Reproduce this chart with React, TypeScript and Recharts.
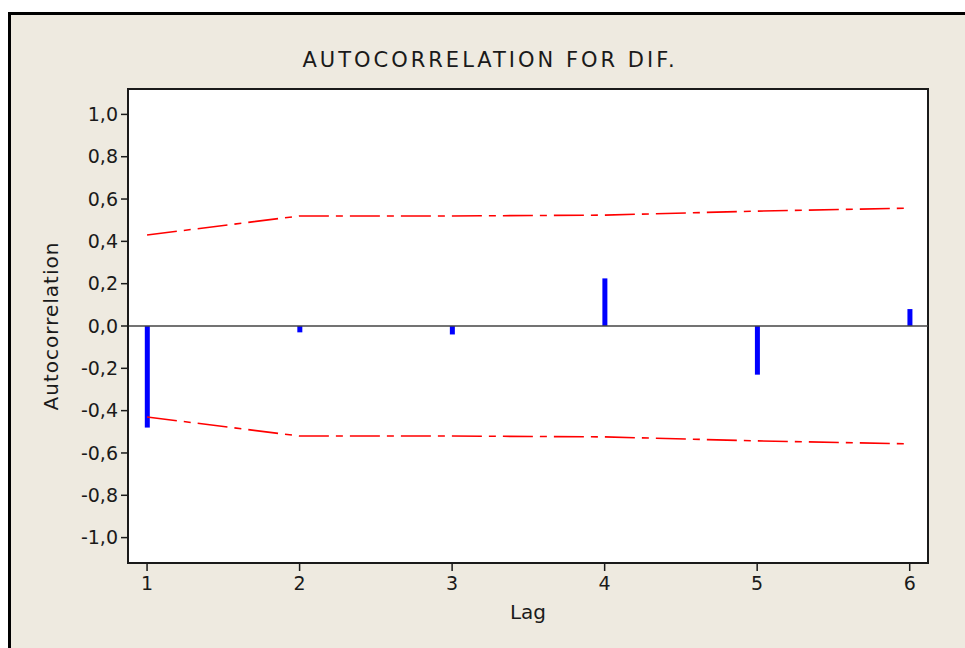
import {
  Bar,
  CartesianGrid,
  ComposedChart,
  Line,
  ReferenceArea,
  ReferenceLine,
  XAxis,
  YAxis,
} from "recharts";

// ACF of DIF, lags 1..6, with the red significance limits
const lags = [1, 2, 3, 4, 5, 6];
const acf = [-0.48, -0.03, -0.04, 0.225, -0.23, 0.08];
const upperLimit = [0.43, 0.52, 0.52, 0.524, 0.543, 0.557];
const lowerLimit = [-0.43, -0.52, -0.52, -0.524, -0.543, -0.557];
const yTicks = [-1, -0.8, -0.6, -0.4, -0.2, 0, 0.2, 0.4, 0.6, 0.8, 1];

const data = lags.map((lag, i) => ({
  lag,
  acf: acf[i],
  upper: upperLimit[i],
  lower: lowerLimit[i],
}));

const font = "'DejaVu Sans', Verdana, sans-serif";
const ink = "#1a1a1a";

const fmt = (v: number) => v.toFixed(1).replace(".", ",");

export default function App() {
  return (
    <div
      style={{
        position: "absolute",
        left: 0,
        top: 0,
        width: 965,
        height: 648,
        overflow: "hidden",
        background: "#fff",
        fontFamily: font,
        color: ink,
      }}
    >
      <div
        style={{
          position: "absolute",
          left: 8,
          top: 12,
          width: 980,
          height: 660,
          borderLeft: "3px solid #000",
          borderTop: "3px solid #000",
          background: "#EEEAE0",
        }}
      />
      <div
        style={{
          position: "absolute",
          left: 490,
          top: 60,
          transform: "translate(-50%, -50%)",
          fontSize: 21,
          letterSpacing: 3,
          whiteSpace: "nowrap",
        }}
      >
        AUTOCORRELATION FOR DIF.
      </div>
      <div
        style={{
          position: "absolute",
          left: 51,
          top: 326,
          transform: "translate(-50%, -50%) rotate(-90deg)",
          fontSize: 20,
          letterSpacing: 1,
          whiteSpace: "nowrap",
        }}
      >
        Autocorrelation
      </div>
      <div
        style={{
          position: "absolute",
          left: 528,
          top: 612,
          transform: "translate(-50%, -50%)",
          fontSize: 20,
          whiteSpace: "nowrap",
        }}
      >
        Lag
      </div>
      <div style={{ position: "absolute", left: 0, top: 0 }}>
        <ComposedChart
          width={965}
          height={648}
          data={data}
          margin={{ top: 89, right: 37, left: 68, bottom: 45 }}
        >
          <CartesianGrid horizontal={false} vertical={false} fill="#fff" />
          <XAxis
            dataKey="lag"
            type="number"
            domain={[0.875, 6.12]}
            ticks={lags}
            allowDataOverflow
            height={40}
            tickSize={8}
            tickMargin={6}
            axisLine={{ stroke: ink, strokeWidth: 2 }}
            tickLine={{ stroke: ink, strokeWidth: 1.5 }}
            tick={{ fill: ink, fontSize: 19, fontFamily: font }}
          />
          <YAxis
            type="number"
            domain={[-1.12, 1.12]}
            ticks={yTicks}
            allowDataOverflow
            width={60}
            tickSize={7}
            tickMargin={3}
            tickFormatter={fmt}
            axisLine={{ stroke: ink, strokeWidth: 2 }}
            tickLine={{ stroke: ink, strokeWidth: 1.5 }}
            tick={{ fill: ink, fontSize: 19, fontFamily: font }}
          />
          <ReferenceLine y={0} stroke="#444" strokeWidth={1.6} />
          <Bar dataKey="acf" fill="#0000FF" barSize={5} isAnimationActive={false} />
          <Line
            type="linear"
            dataKey="upper"
            stroke="#FF0000"
            strokeWidth={1.6}
            strokeDasharray="30 7 7 7"
            dot={false}
            activeDot={false}
            isAnimationActive={false}
          />
          <Line
            type="linear"
            dataKey="lower"
            stroke="#FF0000"
            strokeWidth={1.6}
            strokeDasharray="30 7 7 7"
            dot={false}
            activeDot={false}
            isAnimationActive={false}
          />
          <ReferenceArea
            x1={0.875}
            x2={6.12}
            y1={-1.12}
            y2={1.12}
            fill="none"
            stroke={ink}
            strokeWidth={2}
          />
        </ComposedChart>
      </div>
    </div>
  );
}
